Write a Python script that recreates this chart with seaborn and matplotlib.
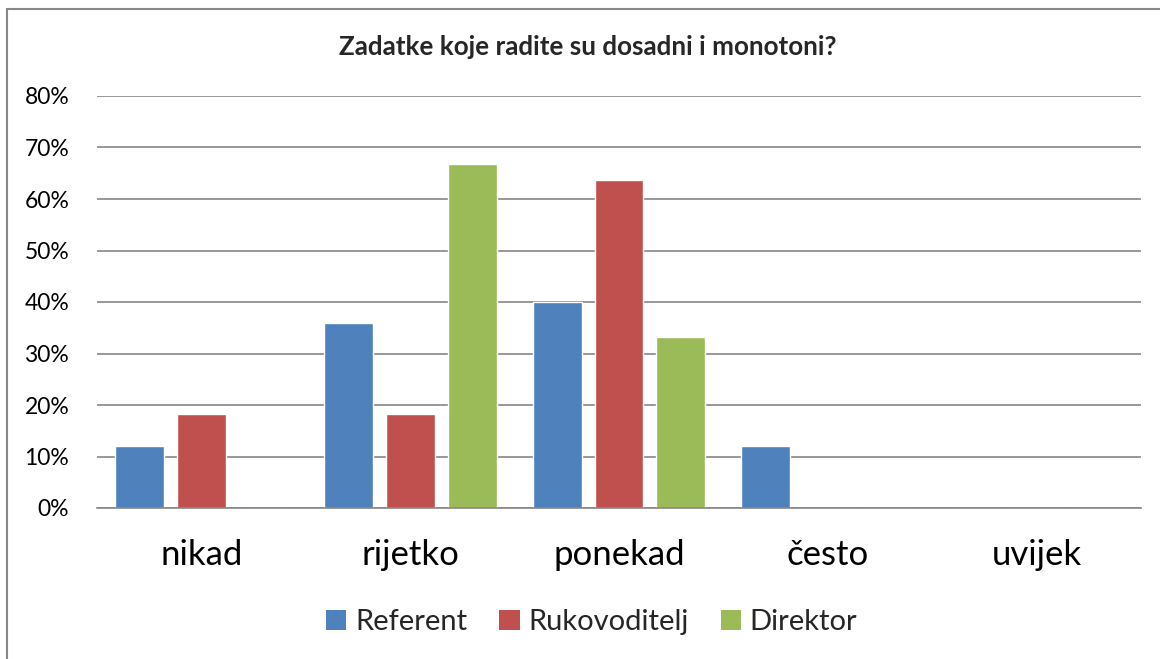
import numpy as np
import pandas as pd
import seaborn as sns
import matplotlib.pyplot as plt
from matplotlib.patches import Rectangle, Patch
from matplotlib.ticker import PercentFormatter

# answers and groups
categories = ["nikad", "rijetko", "ponekad", "često", "uvijek"]
groups = ["Referent", "Rukovoditelj", "Direktor"]

referent = [0.12, 0.36, 0.40, 0.12, 0.0]
rukovoditelj = [0.182, 0.182, 0.636, 0.0, 0.0]
direktor = [0.0, 0.667, 0.333, 0.0, 0.0]

colors = ["#4F81BD", "#C0504D", "#9BBB59"]

sns.set_theme(style="white")
plt.rcParams["font.family"] = ["Lato", "DejaVu Sans"]

df = pd.DataFrame({
    "odgovor": categories * 3,
    "grupa": [g for g in groups for _ in categories],
    "udio": referent + rukovoditelj + direktor,
})

fig = plt.figure(figsize=(11.6, 6.59), dpi=100)
ax = fig.add_axes([97 / 1160, 1 - 508 / 659, 1044 / 1160, 412 / 659])

sns.barplot(
    data=df, x="odgovor", y="udio", hue="grupa",
    order=categories, hue_order=groups, palette=colors,
    width=0.89, gap=0.21, saturation=1, legend=False, ax=ax,
)

ax.set_ylim(0, 0.8)
ax.set_yticks(np.arange(0, 0.81, 0.1))
ax.yaxis.set_major_formatter(PercentFormatter(1, decimals=0))
ax.yaxis.grid(True, color="#868686", linewidth=1.2)
ax.set_axisbelow(True)
for s in ["top", "right", "left"]:
    ax.spines[s].set_visible(False)
ax.spines["bottom"].set_color("#868686")
ax.spines["bottom"].set_linewidth(1.2)
ax.set_xlabel("")
ax.set_ylabel("")
ax.tick_params(axis="y", labelsize=16.5, length=0, pad=20, labelcolor="black")
ax.tick_params(axis="x", labelsize=25, length=0, pad=22, labelcolor="black")

fig.text(0.507, 1 - 47 / 659, "Zadatke koje radite su dosadni i monotoni?",
         ha="center", va="center", fontsize=18.7, fontweight="bold")

handles = [Patch(facecolor=c, edgecolor="none") for c in colors]
fig.legend(handles, groups, loc="center", bbox_to_anchor=(0.51, 1 - 622 / 659),
           ncol=3, frameon=False, fontsize=21, handlelength=0.7,
           handleheight=0.7, handletextpad=0.3, columnspacing=1.1)

fig.patches.append(Rectangle((7 / 1160, -0.1), 2, 0.1 + 1 - 9 / 659,
                             transform=fig.transFigure, fill=False,
                             edgecolor="#878787", linewidth=1.5))

fig.savefig("out.png", dpi=100)
